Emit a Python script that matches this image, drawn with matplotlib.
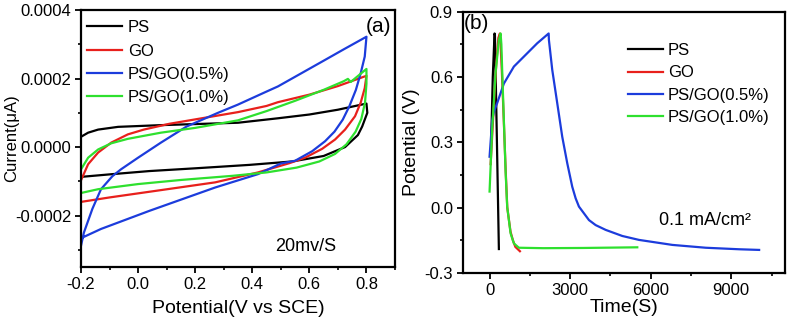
import matplotlib
matplotlib.use("Agg")
import matplotlib.pyplot as plt
from matplotlib.ticker import AutoMinorLocator, FormatStrFormatter

plt.rcParams['font.family'] = ['Liberation Sans', 'DejaVu Sans']

labels = ["PS", "GO", "PS/GO(0.5%)", "PS/GO(1.0%)"]
colors = ["#000000", "#e8201c", "#1c3cdc", "#2ee02e"]

# (a) cyclic voltammetry, current in units of 1e-4
ps_cv_v = [-0.2, -0.175, -0.14, -0.07, 0.08, 0.35, 0.49, 0.60, 0.70, 0.80, 0.803, 0.785,
           0.77, 0.725, 0.65, 0.54, 0.39, 0.20, 0.04, -0.09, -0.2]
ps_cv_i = [0.30, 0.42, 0.51, 0.59, 0.64, 0.71, 0.84, 0.95, 1.09, 1.27, 1.0, 0.60,
           0.35, 0.0, -0.26, -0.42, -0.52, -0.62, -0.70, -0.79, -0.87]

go_cv_v = [-0.2, -0.175, -0.14, -0.094, -0.036, 0.02, 0.11, 0.23, 0.35, 0.45, 0.49, 0.60,
           0.70, 0.80, 0.794, 0.78, 0.76, 0.725, 0.69, 0.645, 0.585, 0.53, 0.42, 0.27, 0.06,
           -0.10, -0.2]
go_cv_i = [-0.97, -0.50, -0.16, 0.13, 0.37, 0.51, 0.68, 0.85, 1.02, 1.20, 1.31, 1.53,
           1.78, 2.08, 1.72, 1.30, 0.90, 0.51, 0.22, -0.05, -0.31, -0.47, -0.74, -1.03, -1.28,
           -1.47, -1.60]

g05_cv_v = [-0.2, -0.19, -0.16, -0.13, -0.09, -0.06, 0.0, 0.08, 0.17, 0.28, 0.35, 0.45, 0.49,
            0.65, 0.72, 0.80, 0.794, 0.78, 0.763, 0.74, 0.717, 0.688, 0.655, 0.61, 0.55, 0.50,
            0.42, 0.27, 0.04, -0.13, -0.2]
g05_cv_i = [-2.88, -2.5, -1.8, -1.23, -0.85, -0.65, -0.31, 0.13, 0.60, 1.00, 1.24, 1.62, 1.77,
            2.52, 2.85, 3.22, 2.64, 2.16, 1.67, 1.19, 0.80, 0.45, 0.17, -0.12, -0.40, -0.48,
            -0.79, -1.18, -1.86, -2.39, -2.66]

g10_cv_v = [-0.2, -0.175, -0.14, -0.094, -0.036, 0.08, 0.20, 0.35, 0.45, 0.49, 0.55, 0.65,
            0.72, 0.735, 0.745, 0.80, 0.80, 0.795, 0.782, 0.762, 0.73, 0.69, 0.635, 0.555,
            0.45, 0.33, 0.15, 0.0, -0.14, -0.2]
g10_cv_i = [-0.65, -0.31, -0.07, 0.11, 0.24, 0.42, 0.56, 0.78, 1.05, 1.17, 1.35, 1.67,
            1.92, 1.99, 1.90, 2.28, 1.85, 1.30, 0.82, 0.45, 0.08, -0.20, -0.42, -0.60,
            -0.74, -0.84, -0.96, -1.08, -1.23, -1.34]

# (b) charge / discharge
ps_t = [60, 120, 186, 200, 270, 347]
ps_u = [0.30, 0.60, 0.80, 0.79, 0.33, -0.19]

go_t = [40, 150, 250, 330, 385, 400, 460, 530, 600, 660, 780, 870, 960, 1130]
go_u = [0.20, 0.45, 0.66, 0.78, 0.80, 0.78, 0.62, 0.40, 0.17, 0.0, -0.11, -0.15, -0.18, -0.20]

g05_t = [0, 97, 160, 283, 533, 906, 1401, 1774, 2200, 2210, 2334, 2520, 2706, 2893, 3079,
         3205, 3328, 3701, 3950, 4323, 4943, 5564, 6806, 8050, 9291, 10037]
g05_u = [0.234, 0.40, 0.44, 0.48, 0.57, 0.648, 0.709, 0.755, 0.80, 0.77, 0.633, 0.48, 0.326,
         0.204, 0.096, 0.043, 0.005, -0.057, -0.08, -0.102, -0.13, -0.148, -0.171, -0.184,
         -0.191, -0.194]

g10_t = [0, 97, 224, 347, 410, 440, 470, 533, 596, 656, 783, 906, 1092, 2000, 3500, 5500]
g10_u = [0.074, 0.36, 0.62, 0.77, 0.80, 0.75, 0.63, 0.40, 0.17, 0.005, -0.118, -0.164, -0.184,
         -0.186, -0.185, -0.182]

cv_sets = [(ps_cv_v, ps_cv_i), (go_cv_v, go_cv_i), (g05_cv_v, g05_cv_i), (g10_cv_v, g10_cv_i)]
gcd_sets = [(ps_t, ps_u), (go_t, go_u), (g05_t, g05_u), (g10_t, g10_u)]

fig = plt.figure(figsize=(7.9, 3.25), dpi=100)
ax1 = fig.add_axes([81 / 790, 1 - 267 / 325, 314 / 790, 257 / 325])
ax2 = fig.add_axes([462.7 / 790, 1 - 273 / 325, 322.3 / 790, 261.3 / 325])

for (v, i), c, lab in zip(cv_sets, colors, labels):
    ax1.plot(v, [k * 1e-4 for k in i], color=c, lw=1.6, label=lab)
for (t, u), c, lab in zip(gcd_sets, colors, labels):
    ax2.plot(t, u, color=c, lw=1.6, label=lab)

ax1.set_xlim(-0.2, 0.9)
ax1.set_ylim(-0.00035, 0.0004)
ax1.set_xticks([-0.2, 0.0, 0.2, 0.4, 0.6, 0.8])
ax1.set_yticks([-0.0002, 0.0, 0.0002, 0.0004])
ax1.xaxis.set_major_formatter(FormatStrFormatter('%.1f'))
ax1.yaxis.set_major_formatter(FormatStrFormatter('%.4f'))
ax1.set_xlabel("Potential(V vs SCE)", fontsize=14, labelpad=6)
ax1.set_ylabel("Current(μA)", fontsize=12)
ax1.yaxis.set_label_coords(-0.198, 0.5)

ax2.set_xlim(-1000, 11000)
ax2.set_ylim(-0.3, 0.9)
ax2.set_xticks([0, 3000, 6000, 9000])
ax2.set_yticks([-0.3, 0.0, 0.3, 0.6, 0.9])
ax2.yaxis.set_major_formatter(FormatStrFormatter('%.1f'))
ax2.set_xlabel("Time(S)", fontsize=14, labelpad=1)
ax2.set_ylabel("Potential (V)", fontsize=14)
ax2.yaxis.set_label_coords(-0.133, 0.5)

for ax in (ax1, ax2):
    ax.xaxis.set_minor_locator(AutoMinorLocator(2))
    ax.yaxis.set_minor_locator(AutoMinorLocator(2))
    ax.tick_params(which='major', direction='out', length=4, width=1.3, labelsize=12, pad=3)
    ax.tick_params(which='minor', direction='out', length=2.5, width=1.2)
    for s in ax.spines.values():
        s.set_linewidth(1.6)

ax1.legend(loc='upper left', bbox_to_anchor=(0.02, 0.96), frameon=False, fontsize=12,
           borderpad=0, borderaxespad=0, handlelength=2.1, handletextpad=0.35, labelspacing=0.5)
ax2.legend(loc='upper left', bbox_to_anchor=(0.513, 0.879), frameon=False, fontsize=12,
           borderpad=0, borderaxespad=0, handlelength=2.1, handletextpad=0.3, labelspacing=0.43)

ax1.text(0.797, 0.000351, "(a)", fontsize=15, va='center', ha='left')
ax1.text(0.48, -0.00029, "20mv/S", fontsize=13, va='center', ha='left')
ax2.text(-958, 0.844, "(b)", fontsize=15, va='center', ha='left')
ax2.text(6310, -0.057, "0.1 mA/cm²", fontsize=13, va='center', ha='left')

fig.savefig("out.png", dpi=100)
